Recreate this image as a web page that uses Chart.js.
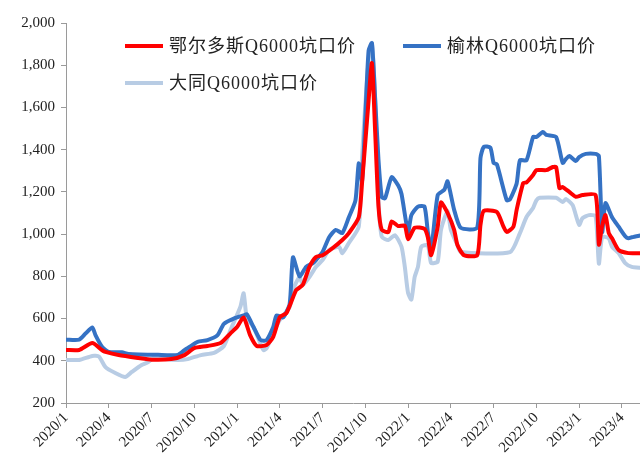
<!DOCTYPE html>
<html>
<head>
<meta charset="utf-8">
<script src="https://cdn.jsdelivr.net/npm/chart.js@4/dist/chart.umd.min.js"></script>
<style>
  html, body { margin: 0; padding: 0; background: #fff; }
</style>
</head>
<body>
<canvas id="chart" width="640" height="456"></canvas>
<script>
/* ============================================
   Q6000 坑口价 — 周度数据 (周序号自 2020/1 起)
   ============================================ */

const tickWeeks = [0, 13, 26, 39, 52, 65, 78, 91, 104, 117, 130, 143, 156, 169];
const tickLabels = ['2020/1', '2020/4', '2020/7', '2020/10', '2021/1', '2021/4', '2021/7',
  '2021/10', '2022/1', '2022/4', '2022/7', '2022/10', '2023/1', '2023/4'];

// 鄂尔多斯
const ordosWeeks = [0, 4, 8, 11, 12, 16, 22, 26, 32, 36, 39, 43, 47, 50, 52, 54, 56, 58, 61, 63,
  65, 67, 69, 70, 72, 74, 76, 78, 81, 84, 86, 89, 90, 92, 93, 94, 95, 96, 98, 99,
  101, 103, 104, 106, 109, 110, 111, 113, 114, 116, 118, 119, 121, 125, 126, 127, 131, 133, 134, 136,
  137, 139, 140, 142, 143, 146, 148, 149, 150, 151, 153, 155, 157, 161, 162, 163, 164, 165, 166, 168,
  171, 175];
const ordosValues = [451, 451, 484, 450, 442, 427, 413, 405, 408, 427, 460, 470, 484, 530, 560, 605, 520, 470, 475, 513,
  607, 626, 700, 735, 760, 845, 892, 900, 933, 972, 1005, 1080, 1242, 1635, 1810, 1480, 1130, 1020, 1010, 1060,
  1038, 1040, 975, 1030, 1025, 985, 900, 1035, 1150, 1100, 1020, 948, 900, 900, 1043, 1110, 1105, 1035, 1010, 1035,
  1115, 1242, 1245, 1280, 1303, 1303, 1318, 1318, 1218, 1223, 1200, 1177, 1185, 1185, 950, 1040, 1090, 1005, 980, 925,
  910, 910];

// 榆林
const yulinWeeks = [0, 4, 6, 8, 9, 11, 13, 17, 19, 28, 34, 36, 38, 40, 43, 46, 48, 51, 54, 55,
  57, 59, 60, 61, 63, 64, 66, 68, 69, 71, 73, 75, 76, 78, 80, 82, 84, 86, 88, 89,
  90, 91, 92, 93, 94, 95, 96, 97, 99, 101, 102, 104, 105, 107, 109, 110, 111, 113, 115, 116,
  118, 120, 125, 126, 127, 129, 130, 131, 134, 135, 137, 138, 140, 142, 143, 145, 146, 149, 151, 152,
  153, 155, 156, 158, 161, 162, 163, 164, 166, 168, 170, 171, 172, 175];
const yulinValues = [500, 500, 530, 558, 520, 465, 442, 440, 432, 428, 428, 450, 470, 490, 498, 520, 575, 600, 615, 620,
  560, 500, 495, 498, 560, 615, 605, 670, 890, 800, 845, 862, 877, 915, 985, 1020, 1005, 1080, 1160, 1335,
  1250, 1555, 1870, 1905, 1635, 1350, 1175, 1170, 1270, 1230, 1190, 1010, 1090, 1130, 1130, 1010, 925, 1185, 1210, 1250,
  1115, 1030, 1030, 1360, 1413, 1410, 1337, 1330, 1160, 1165, 1240, 1350, 1350, 1460, 1460, 1484, 1470, 1460, 1337, 1356,
  1370, 1346, 1365, 1380, 1380, 1370, 1010, 1147, 1080, 1035, 990, 980, 985, 995];

// 大同
const datongWeeks = [0, 4, 8, 10, 12, 15, 18, 20, 23, 25, 27, 30, 34, 37, 41, 45, 48, 50, 53, 54,
  55, 57, 60, 61, 63, 65, 68, 69, 71, 72, 74, 76, 78, 80, 83, 84, 86, 89, 90, 92,
  93, 94, 95, 96, 98, 100, 102, 103, 104, 105, 106, 107, 108, 110, 111, 113, 114, 116, 117, 119,
  120, 135, 138, 140, 142, 143, 144, 149, 151, 152, 154, 155, 156, 157, 159, 161, 162, 163, 165, 166,
  168, 170, 172, 175];
const datongValues = [404, 404, 423, 420, 370, 342, 323, 347, 380, 394, 418, 408, 404, 408, 427, 437, 470, 546, 655, 720,
  600, 560, 451, 460, 530, 593, 655, 735, 797, 760, 797, 845, 877, 925, 940, 910, 958, 1035, 1365, 1825,
  1905, 1635, 1160, 987, 972, 995, 940, 845, 720, 690, 797, 845, 940, 947, 863, 870, 1020, 1110, 1020, 948,
  915, 915, 1005, 1081, 1124, 1160, 1172, 1172, 1152, 1166, 1138, 1090, 1043, 1075, 1090, 1085, 860, 987, 980, 940,
  910, 863, 845, 840];

const SERIES = [
  { label: '鄂尔多斯Q6000坑口价', weeks: ordosWeeks, values: ordosValues, color: '#FF0000' },
  { label: '榆林Q6000坑口价', weeks: yulinWeeks, values: yulinValues, color: '#3572C4' },
  { label: '大同Q6000坑口价', weeks: datongWeeks, values: datongValues, color: '#B8CCE4' }
];

const FONT = '"Liberation Serif", "Times New Roman", "Noto Sans CJK SC", serif';
const AXIS_COLOR = '#9a9a9a';

// 图例画在绘图区内 (两行)
const LEGEND_POS = [{ x: 125, y: 46 }, { x: 403, y: 46 }, { x: 125, y: 83 }];

const insideLegend = {
  id: 'insideLegend',
  afterDraw(chart) {
    const ctx = chart.ctx;
    ctx.save();
    ctx.font = '18px ' + FONT;
    ctx.textBaseline = 'middle';
    ctx.letterSpacing = '1px';
    chart.data.datasets.forEach((ds, i) => {
      const p = LEGEND_POS[i];
      ctx.strokeStyle = ds.borderColor;
      ctx.lineWidth = 4;
      ctx.beginPath();
      ctx.moveTo(p.x, p.y);
      ctx.lineTo(p.x + 38, p.y);
      ctx.stroke();
      ctx.fillStyle = '#222';
      ctx.fillText(ds.label, p.x + 44, p.y + 1);
    });
    ctx.restore();
  }
};

new Chart(document.getElementById('chart'), {
  type: 'line',
  plugins: [insideLegend],
  data: {
    datasets: SERIES.map(s => ({
      label: s.label,
      data: s.weeks.map((w, i) => ({ x: w, y: s.values[i] })),
      borderColor: s.color,
      backgroundColor: s.color,
      borderWidth: 4,
      pointRadius: 0,
      tension: 0.2,
      fill: false
    }))
  },
  options: {
    responsive: false,
    animation: false,
    layout: { padding: { top: 23, right: 0, left: 0, bottom: 0 } },
    plugins: {
      legend: { display: false },
      tooltip: { enabled: false }
    },
    scales: {
      x: {
        type: 'linear',
        min: 0,
        max: 174.5,
        afterBuildTicks: (scale) => {
          scale.ticks = tickWeeks.map(v => ({ value: v }));
        },
        afterFit: (scale) => { scale.height = 53; },
        ticks: {
          autoSkip: false,
          maxRotation: 45,
          minRotation: 45,
          padding: 1,
          color: '#222',
          font: { family: FONT, size: 15 },
          callback: (v, idx) => tickLabels[idx]
        },
        grid: { drawOnChartArea: false, tickLength: 5, color: AXIS_COLOR },
        border: { color: AXIS_COLOR, width: 1 }
      },
      y: {
        min: 200,
        max: 2000,
        afterFit: (scale) => { scale.width = 66; },
        ticks: {
          stepSize: 200,
          padding: 6,
          color: '#222',
          font: { family: FONT, size: 15 },
          callback: (v) => v.toLocaleString('en-US')
        },
        grid: { drawOnChartArea: false, tickLength: 5, color: AXIS_COLOR },
        border: { color: AXIS_COLOR, width: 1 }
      }
    }
  }
});
</script>
</body>
</html>
